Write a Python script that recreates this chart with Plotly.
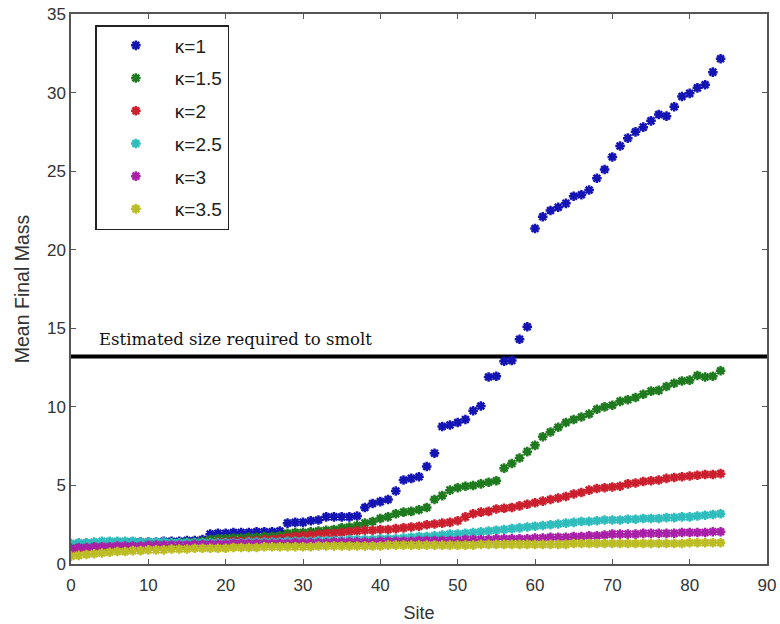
import plotly.graph_objects as go

sites = list(range(0, 85))

kappa_1 = [1.2, 1.25, 1.3, 1.3, 1.3, 1.35, 1.35, 1.35, 1.4, 1.4, 1.4, 1.4, 1.45, 1.45, 1.45, 1.5, 1.5, 1.55,
           1.9, 1.95, 1.95, 2.0, 2.0, 2.0, 2.05, 2.05, 2.05, 2.1,
           2.6, 2.65, 2.65, 2.75, 2.8, 3.0, 3.0, 3.0, 3.0, 3.05,
           3.6, 3.85, 3.97, 4.1, 4.65, 5.35, 5.45, 5.55, 6.2, 7.05,
           8.75, 8.85, 9.0, 9.2, 9.75, 10.05, 11.9, 11.95, 12.9, 12.95, 14.3, 15.1,
           21.35, 22.1, 22.5, 22.7, 22.95, 23.4, 23.5, 23.8, 24.55, 25.1,
           25.9, 26.6, 27.1, 27.5, 27.8, 28.2, 28.6, 28.5, 29.1, 29.75,
           29.95, 30.3, 30.5, 31.3, 32.15]

kappa_15 = [1.1, 1.1, 1.15, 1.15, 1.2, 1.2, 1.2, 1.25, 1.25, 1.25, 1.3, 1.3, 1.3, 1.35, 1.35, 1.4, 1.4, 1.45,
            1.55, 1.6, 1.6, 1.65, 1.65, 1.7, 1.7, 1.75, 1.75, 1.8,
            1.95, 2.0, 2.0, 2.05, 2.1, 2.15, 2.2, 2.3, 2.35, 2.45,
            2.6, 2.7, 2.9, 3.0, 3.2, 3.3, 3.35, 3.45, 3.6, 4.1,
            4.35, 4.7, 4.85, 4.95, 5.0, 5.1, 5.2, 5.3, 6.1, 6.4, 6.75, 7.15,
            7.55, 8.1, 8.4, 8.7, 9.0, 9.2, 9.35, 9.55, 9.85, 10.0,
            10.1, 10.35, 10.45, 10.6, 10.8, 11.0, 11.05, 11.3, 11.5, 11.65,
            11.7, 12.0, 11.9, 11.95, 12.3]

kappa_2 = [0.9, 0.95, 1.0, 1.0, 1.05, 1.05, 1.1, 1.1, 1.1, 1.15, 1.15, 1.15, 1.2, 1.2, 1.2, 1.25, 1.25, 1.3,
           1.35, 1.4, 1.4, 1.45, 1.45, 1.5, 1.5, 1.55, 1.55, 1.6,
           1.7, 1.75, 1.8, 1.85, 1.9, 1.95, 1.95, 2.0, 2.05, 2.1,
           2.15, 2.15, 2.2, 2.2, 2.25, 2.3, 2.35, 2.4, 2.5, 2.55,
           2.6, 2.65, 2.75, 3.0, 3.2, 3.3, 3.35, 3.5, 3.55, 3.6, 3.7, 3.8,
           3.9, 4.0, 4.1, 4.2, 4.3, 4.45, 4.55, 4.7, 4.8, 4.85,
           4.9, 4.95, 5.1, 5.15, 5.25, 5.3, 5.35, 5.45, 5.5, 5.55,
           5.6, 5.65, 5.7, 5.7, 5.75]

kappa_25 = [1.3, 1.35, 1.35, 1.4, 1.45, 1.45, 1.45, 1.45, 1.45, 1.4, 1.4, 1.4, 1.4, 1.35, 1.35, 1.35, 1.35, 1.35,
            1.35, 1.35, 1.35, 1.35, 1.35, 1.4, 1.4, 1.4, 1.4, 1.4,
            1.45, 1.45, 1.45, 1.45, 1.5, 1.5, 1.5, 1.5, 1.55, 1.55,
            1.55, 1.55, 1.6, 1.6, 1.6, 1.65, 1.7, 1.75, 1.75, 1.8,
            1.85, 1.9, 1.9, 1.95, 2.0, 2.05, 2.1, 2.15, 2.2, 2.25, 2.3, 2.35,
            2.4, 2.45, 2.5, 2.55, 2.6, 2.65, 2.7, 2.7, 2.75, 2.8,
            2.8, 2.8, 2.85, 2.85, 2.9, 2.9, 2.9, 2.95, 2.95, 3.0,
            3.0, 3.05, 3.1, 3.15, 3.2]

kappa_3 = [1.0, 1.05, 1.05, 1.1, 1.1, 1.1, 1.15, 1.15, 1.15, 1.15, 1.2, 1.2, 1.2, 1.2, 1.2, 1.2, 1.25, 1.25,
           1.25, 1.25, 1.25, 1.3, 1.3, 1.3, 1.3, 1.3, 1.3, 1.3,
           1.3, 1.35, 1.35, 1.35, 1.35, 1.35, 1.4, 1.4, 1.4, 1.4,
           1.4, 1.4, 1.45, 1.45, 1.45, 1.45, 1.45, 1.5, 1.5, 1.5,
           1.5, 1.5, 1.5, 1.55, 1.55, 1.55, 1.55, 1.6, 1.6, 1.6, 1.6, 1.6,
           1.65, 1.65, 1.7, 1.7, 1.7, 1.75, 1.75, 1.8, 1.8, 1.85,
           1.9, 1.9, 1.9, 1.9, 1.95, 1.95, 1.95, 1.95, 1.95, 2.0,
           2.0, 2.0, 2.0, 2.05, 2.05]

kappa_35 = [0.5, 0.55, 0.6, 0.65, 0.7, 0.75, 0.8, 0.8, 0.85, 0.85, 0.9, 0.9, 0.9, 0.95, 0.95, 0.95, 1.0, 1.0,
            1.0, 1.0, 1.0, 1.05, 1.05, 1.05, 1.05, 1.1, 1.1, 1.1,
            1.1, 1.1, 1.1, 1.1, 1.15, 1.15, 1.15, 1.15, 1.15, 1.15,
            1.15, 1.15, 1.15, 1.2, 1.2, 1.2, 1.2, 1.2, 1.2, 1.2,
            1.2, 1.2, 1.2, 1.2, 1.2, 1.25, 1.25, 1.25, 1.25, 1.25, 1.25, 1.25,
            1.25, 1.25, 1.25, 1.25, 1.25, 1.3, 1.3, 1.3, 1.3, 1.3,
            1.3, 1.3, 1.3, 1.3, 1.3, 1.3, 1.3, 1.3, 1.3, 1.3,
            1.35, 1.35, 1.35, 1.35, 1.35]

labels = ["κ=1", "κ=1.5", "κ=2", "κ=2.5", "κ=3", "κ=3.5"]
colors = ["#1414b4", "#1f7a1f", "#cc1f2e", "#2fbcbc", "#a81fa8", "#bcbc24"]
series = [kappa_1, kappa_15, kappa_2, kappa_25, kappa_3, kappa_35]

smolt_size = 13.2
smolt_label = "Estimated size required to smolt"

fig = go.Figure()

fig.add_trace(go.Scatter(x=[0, 90], y=[smolt_size, smolt_size], mode="lines",
                         line=dict(color="black", width=4), showlegend=False, hoverinfo="skip"))

for i, (lab, col, vals) in enumerate(zip(labels, colors, series)):
    fig.add_trace(go.Scatter(
        x=sites, y=vals, mode="markers", name=lab, legendgroup=lab,
        marker=dict(symbol="asterisk-open", size=8, color=col, line=dict(color=col, width=2.5)),
    ))

fig.add_annotation(x=3.3, y=smolt_size, xref="x", yref="y", text=smolt_label,
                   showarrow=False, xanchor="left", yanchor="bottom", yshift=6,
                   font=dict(family="DejaVu Serif", size=16.5, color="#111"))

axis_common = dict(showline=True, linecolor="#555", linewidth=1.5, mirror="ticks",
                   ticks="inside", ticklen=5, tickcolor="#555", showgrid=False, zeroline=False,
                   automargin=False,
                   tickfont=dict(family="Liberation Sans, Arial", size=17, color="#333"))

fig.update_xaxes(range=[0, 90], tickvals=list(range(0, 91, 10)), ticklabelstandoff=5,
                 title=dict(text="Site", font=dict(family="Liberation Sans, Arial", size=18, color="#333"), standoff=12),
                 **axis_common)
fig.update_yaxes(range=[0, 35], tickvals=list(range(0, 36, 5)),
                 title=dict(text="Mean Final Mass", font=dict(family="Liberation Sans, Arial", size=19.5, color="#333"), standoff=12),
                 **axis_common)

fig.update_layout(
    width=780, height=624,
    margin=dict(l=71, r=13, t=14, b=60),
    plot_bgcolor="white", paper_bgcolor="white",
    legend=dict(x=0.035, y=0.98, xanchor="left", yanchor="top",
                bordercolor="#222", borderwidth=1.5, bgcolor="white",
                font=dict(family="Liberation Sans, Arial", size=19, color="#222"),
                tracegroupgap=5, itemwidth=68),
)

fig.write_html("out.html")
